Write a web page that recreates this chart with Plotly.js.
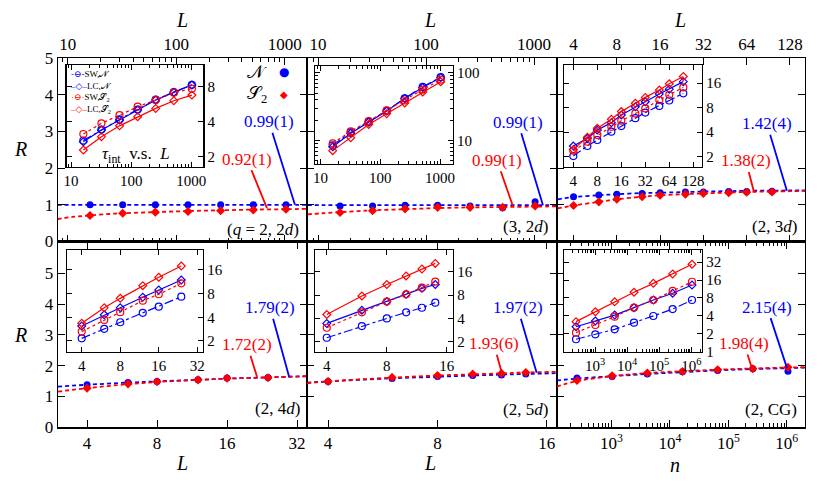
<!DOCTYPE html>
<html>
<head>
<meta charset="utf-8">
<script src="https://cdn.plot.ly/plotly-3.0.1.min.js"></script>
<style>
  body { margin: 0; background: #fff; }
  #graph { width: 830px; height: 486px; }
</style>
</head>
<body>
<div id="graph"></div>
<script>
// sizes used in each panel
const L2d = [16, 32, 64, 128, 256, 512, 1024];
const L3d = [4, 6, 8, 12, 16, 24, 32, 48, 64, 96];
const L4d = [4, 6, 8, 12, 16, 24];
const L5d = [4, 6, 8, 10, 12, 14];
const nCG = [256, 1024, 4096, 16384, 65536, 262144, 1048576];

// R for N (blue) and S2 (red), main panels
const R_N_q2 = [1.00, 1.00, 1.00, 1.00, 1.00, 1.00, 1.00];
const R_S_q2 = [0.71, 0.77, 0.80, 0.82, 0.84, 0.86, 0.88];
const R_N_q3 = [0.97, 0.97, 0.99, 0.99, 0.97, 0.92, 1.08];
const R_S_q3 = [0.79, 0.84, 0.89, 0.93, 0.93, 0.93, 0.97];
const R_N_3d = [1.22, 1.27, 1.29, 1.31, 1.33, 1.35, 1.35, 1.36, 1.36, 1.37];
const R_S_3d = [0.98, 1.08, 1.15, 1.22, 1.26, 1.29, 1.31, 1.33, 1.34, 1.35];
const R_N_4d = [1.38, 1.45, 1.49, 1.54, 1.60, 1.62];
const R_S_4d = [1.27, 1.41, 1.48, 1.54, 1.59, 1.61];
const R_N_5d = [1.49, 1.58, 1.65, 1.68, 1.70, 1.73];
const R_S_5d = [1.49, 1.62, 1.68, 1.73, 1.75, 1.78];
const R_N_CG = [1.60, 1.65, 1.73, 1.80, 1.84, 1.90, 1.82];
const R_S_CG = [1.52, 1.67, 1.76, 1.81, 1.87, 1.90, 1.95];

// fitted curves (dashed)
const fitX_q2 = [8, 11, 16, 24, 32, 64, 128, 256, 512, 1024, 1600];
const fitN_q2 = [1, 1, 1, 1, 1, 1, 1, 1, 1, 1, 1];
const fitS_q2 = [0.61, 0.67, 0.71, 0.75, 0.77, 0.80, 0.83, 0.85, 0.87, 0.88, 0.89];
const fitX_q3 = [8, 11, 16, 24, 32, 64, 128, 256, 512, 1024, 1650];
const fitN_q3 = [0.99, 0.99, 0.99, 0.99, 0.99, 0.99, 0.99, 0.99, 0.99, 0.99, 0.99];
const fitS_q3 = [0.74, 0.77, 0.80, 0.83, 0.85, 0.88, 0.91, 0.93, 0.94, 0.95, 0.96];
const fitX_3d = [3.1, 4, 6, 8, 12, 16, 32, 64, 128, 165];
const fitN_3d = [1.15, 1.21, 1.26, 1.29, 1.32, 1.33, 1.36, 1.38, 1.39, 1.39];
const fitS_3d = [0.90, 0.98, 1.08, 1.15, 1.22, 1.26, 1.31, 1.35, 1.37, 1.38];
const fitX_4d = [3, 4, 6, 8, 12, 16, 24, 36];
const fitN_4d = [1.32, 1.38, 1.45, 1.49, 1.54, 1.58, 1.62, 1.66];
const fitS_4d = [1.16, 1.27, 1.40, 1.47, 1.54, 1.58, 1.62, 1.66];
const fitX_5d = [3.5, 4, 6, 8, 10, 12, 14, 17.5];
const fitN_5d = [1.45, 1.49, 1.59, 1.64, 1.68, 1.71, 1.73, 1.76];
const fitS_5d = [1.43, 1.49, 1.61, 1.68, 1.72, 1.75, 1.78, 1.80];
const fitX_CG = [115, 256, 1024, 4096, 16384, 65536, 262144, 1048576, 2100000];
const fitN_CG = [1.52, 1.58, 1.66, 1.73, 1.79, 1.85, 1.89, 1.92, 1.94];
const fitS_CG = [1.32, 1.50, 1.66, 1.76, 1.82, 1.87, 1.91, 1.94, 1.95];

// tau_int in the insets: SW/LC for N and S2
const tau1_SW_N = [2.75, 3.42, 4.18, 5.08, 6.18, 7.20, 8.30];
const tau1_LC_N = [2.69, 3.39, 4.13, 5.03, 6.14, 7.15, 8.28];
const tau1_SW_S = [3.13, 3.87, 4.55, 5.38, 6.14, 7.10, 7.70];
const tau1_LC_S = [2.28, 2.97, 3.68, 4.41, 5.20, 6.06, 6.77];

const tau2_SW_N = [8.5, 13.2, 19.0, 27.5, 42, 62, 86];
const tau2_LC_N = [8.1, 12.8, 18.7, 27.3, 41.6, 60.6, 85];
const tau2_SW_S = [9.1, 13.7, 19.4, 27.9, 39, 56.6, 79];
const tau2_LC_S = [7.1, 11.0, 17.3, 24.9, 35.8, 52, 73.7];

const tau3_SW_N = [2.04, 2.71, 3.21, 4.06, 4.76, 5.94, 6.96, 8.4, 9.8, 12.0];
const tau3_LC_N = [2.71, 3.36, 4.26, 5.24, 6.5, 8.2, 9.45, 11.8, 13.5, 16.7];
const tau3_SW_S = [2.37, 3.06, 3.7, 4.66, 5.54, 6.8, 7.84, 9.92, 11.5, 14.2];
const tau3_LC_S = [2.46, 3.46, 4.47, 5.77, 7.16, 9.06, 10.7, 13.2, 15.7, 19.3];

const tau4_SW_N = [2.16, 2.85, 3.46, 4.56, 5.46, 7.3];
const tau4_LC_N = [3.1, 4.3, 5.3, 7.2, 8.9, 11.9];
const tau4_SW_S = [2.63, 3.7, 4.64, 6.5, 7.85, 10.8];
const tau4_LC_S = [3.36, 5.3, 6.96, 10.1, 12.9, 17.9];

const tau5_SW_N = [2.25, 3.19, 4.0, 4.8, 5.5, 6.4];
const tau5_LC_N = [3.45, 5.1, 6.6, 8.2, 9.8, 11.0];
const tau5_SW_S = [3.03, 4.8, 6.6, 8.2, 10.0, 12.0];
const tau5_LC_S = [4.5, 7.8, 11.0, 14.2, 17.4, 20.6];

const tau6_SW_N = [1.62, 1.96, 2.38, 3.08, 3.98, 5.2, 7.4];
const tau6_LC_N = [2.63, 3.28, 4.13, 5.5, 7.4, 9.6, 13.2];
const tau6_SW_S = [2.09, 2.81, 3.88, 5.5, 7.4, 10.5, 15.0];
const tau6_LC_S = [3.2, 4.7, 6.9, 10.0, 14.1, 20.3, 29.5];

const BLUE = '#0000ff';
const RED = '#ff0000';
const serif = '"Liberation Serif", "DejaVu Serif", serif';

// pixel -> paper helpers (margins are zero)
const W = 830, H = 486;
const X = px => px / W;
const Y = py => 1 - py / H;

function mainTraces(n, x, rN, rS, fx, fN, fS) {
    const xa = 'x' + (n === 1 ? '' : n), ya = 'y' + (n === 1 ? '' : n);
    return [
        { x: fx, y: fN, xaxis: xa, yaxis: ya, mode: 'lines', line: { color: BLUE, width: 1.8, dash: '4px,3px', shape: 'spline' } },
        { x: fx, y: fS, xaxis: xa, yaxis: ya, mode: 'lines', line: { color: RED, width: 1.8, dash: '4px,3px', shape: 'spline' } },
        { x: x, y: rN, xaxis: xa, yaxis: ya, mode: 'markers', marker: { color: BLUE, size: 7, symbol: 'circle' } },
        { x: x, y: rS, xaxis: xa, yaxis: ya, mode: 'markers', marker: { color: RED, size: 7, symbol: 'diamond' } },
    ];
}

function insetTraces(n, x, swN, lcN, swS, lcS) {
    const xa = 'x' + n, ya = 'y' + n;
    return [
        { x: x, y: swN, xaxis: xa, yaxis: ya, mode: 'lines+markers',
          line: { color: BLUE, width: 1.2, dash: 'dashdot' }, marker: { symbol: 'circle-open', size: 7, color: BLUE, line: { width: 1.2 } } },
        { x: x, y: lcN, xaxis: xa, yaxis: ya, mode: 'lines+markers',
          line: { color: BLUE, width: 1.2 }, marker: { symbol: 'diamond-open', size: 6, color: BLUE, line: { width: 1.2 } } },
        { x: x, y: swS, xaxis: xa, yaxis: ya, mode: 'lines+markers',
          line: { color: RED, width: 1.2, dash: 'dot' }, marker: { symbol: 'circle-open', size: 7, color: RED, line: { width: 1.2 } } },
        { x: x, y: lcS, xaxis: xa, yaxis: ya, mode: 'lines+markers',
          line: { color: RED, width: 1.2 }, marker: { symbol: 'diamond-open', size: 6, color: RED, line: { width: 1.2 } } },
    ];
}

const data = [].concat(
    mainTraces(1, L2d, R_N_q2, R_S_q2, fitX_q2, fitN_q2, fitS_q2),
    mainTraces(2, L2d, R_N_q3, R_S_q3, fitX_q3, fitN_q3, fitS_q3),
    mainTraces(3, L3d, R_N_3d, R_S_3d, fitX_3d, fitN_3d, fitS_3d),
    mainTraces(4, L4d, R_N_4d, R_S_4d, fitX_4d, fitN_4d, fitS_4d),
    mainTraces(5, L5d, R_N_5d, R_S_5d, fitX_5d, fitN_5d, fitS_5d),
    mainTraces(6, nCG, R_N_CG, R_S_CG, fitX_CG, fitN_CG, fitS_CG),
    insetTraces(7, L2d, tau1_SW_N, tau1_LC_N, tau1_SW_S, tau1_LC_S),
    insetTraces(8, L2d, tau2_SW_N, tau2_LC_N, tau2_SW_S, tau2_LC_S),
    insetTraces(9, L3d, tau3_SW_N, tau3_LC_N, tau3_SW_S, tau3_LC_S),
    insetTraces(10, L4d, tau4_SW_N, tau4_LC_N, tau4_SW_S, tau4_LC_S),
    insetTraces(11, L5d, tau5_SW_N, tau5_LC_N, tau5_SW_S, tau5_LC_S),
    insetTraces(12, nCG, tau6_SW_N, tau6_LC_N, tau6_SW_S, tau6_LC_S)
);

// minor tick positions 2..9 per decade
function decadeMinors(e0, e1) {
    const v = [];
    for (let e = e0; e <= e1; e++) for (let m = 2; m <= 9; m++) v.push(m * Math.pow(10, e));
    return v;
}

const axBase = {
    ticks: 'inside', mirror: 'allticks', showline: true, linecolor: '#000', linewidth: 1.3,
    tickcolor: '#000', ticklen: 7, tickwidth: 1, showgrid: false, zeroline: false,
    tickfont: { family: serif, size: 17, color: '#000' }, fixedrange: true,
};
const inBase = Object.assign({}, axBase, { ticklen: 5, tickfont: { family: serif, size: 15, color: '#000' } });
const minorMain = e => ({ tickvals: decadeMinors(e[0], e[1]), ticks: 'inside', ticklen: 4, tickcolor: '#000', showgrid: false });
const minorIn = e => ({ tickvals: decadeMinors(e[0], e[1]), ticks: 'inside', ticklen: 3, tickcolor: '#000', showgrid: false });
const pow10 = ['10<sup>3</sup>', '10<sup>4</sup>', '10<sup>5</sup>', '10<sup>6</sup>'];

const topY = [Y(241.5), Y(58)];
const botY = [Y(427.3), Y(241.5)];

const layout = {
    width: W, height: H,
    margin: { l: 0, r: 0, t: 0, b: 0 },
    paper_bgcolor: '#fff', plot_bgcolor: 'rgba(0,0,0,0)',
    font: { family: serif, color: '#000' },
    showlegend: false,

    // main panels
    xaxis: Object.assign({}, axBase, { type: 'log', domain: [X(58), X(307)], range: [0.909, 3.204], side: 'top', anchor: 'y',
        tickvals: [10, 100, 1000], minor: minorMain([0, 3]) }),
    yaxis: Object.assign({}, axBase, { domain: topY, range: [0, 5], tickvals: [0, 1, 2, 3, 4, 5], anchor: 'x' }),
    xaxis2: Object.assign({}, axBase, { type: 'log', domain: [X(307), X(557)], range: [0.898, 3.213], side: 'top', anchor: 'y2',
        tickvals: [10, 100, 1000], minor: minorMain([0, 3]) }),
    yaxis2: Object.assign({}, axBase, { domain: topY, range: [0, 5], tickvals: [0, 1, 2, 3, 4, 5], anchor: 'x2', showticklabels: false }),
    xaxis3: Object.assign({}, axBase, { type: 'log', domain: [X(557), X(805)], range: [0.487, 2.212], side: 'top', anchor: 'y3',
        tickvals: [4, 8, 16, 32, 64, 128] }),
    yaxis3: Object.assign({}, axBase, { domain: topY, range: [0, 5], tickvals: [0, 1, 2, 3, 4, 5], anchor: 'x3', showticklabels: false }),
    xaxis4: Object.assign({}, axBase, { type: 'log', domain: [X(58), X(307)], range: [0.477, 1.548], anchor: 'y4',
        tickvals: [4, 8, 16, 32] }),
    yaxis4: Object.assign({}, axBase, { domain: botY, range: [0, 6.03], tickvals: [0, 1, 2, 3, 4, 5], anchor: 'x4' }),
    xaxis5: Object.assign({}, axBase, { type: 'log', domain: [X(307), X(557)], range: [0.544, 1.232], anchor: 'y5',
        tickvals: [4, 8, 16] }),
    yaxis5: Object.assign({}, axBase, { domain: botY, range: [0, 6.03], tickvals: [0, 1, 2, 3, 4, 5], anchor: 'x5', showticklabels: false }),
    xaxis6: Object.assign({}, axBase, { type: 'log', domain: [X(557), X(805)], range: [2.066, 6.312], anchor: 'y6',
        tickvals: [1e3, 1e4, 1e5, 1e6], ticktext: pow10, minor: minorMain([2, 6]) }),
    yaxis6: Object.assign({}, axBase, { domain: botY, range: [0, 6.03], tickvals: [0, 1, 2, 3, 4, 5], anchor: 'x6', showticklabels: false }),

    // insets
    xaxis7: Object.assign({}, inBase, { type: 'log', domain: [X(66.7), X(203.3)], range: [0.927, 3.2], anchor: 'y7',
        tickvals: [10, 100, 1000], minor: minorIn([0, 3]) }),
    yaxis7: Object.assign({}, inBase, { type: 'log', domain: [Y(166.7), Y(65)], range: [0.214, 1.090], side: 'right', anchor: 'x7',
        tickvals: [2, 4, 8] }),
    xaxis8: Object.assign({}, inBase, { type: 'log', domain: [X(315), X(452.7)], range: [0.908, 3.211], anchor: 'y8',
        tickvals: [10, 100, 1000], minor: minorIn([0, 3]) }),
    yaxis8: Object.assign({}, inBase, { type: 'log', domain: [Y(164), Y(66)], range: [0.654, 2.10], side: 'right', anchor: 'x8',
        tickvals: [10, 100], minor: minorIn([0, 2]) }),
    xaxis9: Object.assign({}, inBase, { type: 'log', domain: [X(564), X(702)], range: [0.485, 2.217], anchor: 'y9',
        tickvals: [4, 8, 16, 32, 64, 128] }),
    yaxis9: Object.assign({}, inBase, { type: 'log', domain: [Y(167), Y(65)], range: [0.175, 1.427], side: 'right', anchor: 'x9',
        tickvals: [2, 4, 8, 16] }),
    xaxis10: Object.assign({}, inBase, { type: 'log', domain: [X(67), X(203)], range: [0.487, 1.550], anchor: 'y10',
        tickvals: [4, 8, 16, 32] }),
    yaxis10: Object.assign({}, inBase, { type: 'log', domain: [Y(352), Y(250)], range: [0.161, 1.457], side: 'right', anchor: 'x10',
        tickvals: [2, 4, 8, 16] }),
    xaxis11: Object.assign({}, inBase, { type: 'log', domain: [X(315), X(453)], range: [0.543, 1.235], anchor: 'y11',
        tickvals: [4, 8, 16] }),
    yaxis11: Object.assign({}, inBase, { type: 'log', domain: [Y(352), Y(250)], range: [0.168, 1.487], side: 'right', anchor: 'x11',
        tickvals: [2, 4, 8, 16] }),
    xaxis12: Object.assign({}, inBase, { type: 'log', domain: [X(564), X(702)], range: [2.034, 6.333], anchor: 'y12',
        tickvals: [1e3, 1e4, 1e5, 1e6], ticktext: pow10, minor: minorIn([2, 6]) }),
    yaxis12: Object.assign({}, inBase, { type: 'log', domain: [Y(352), Y(250)], range: [-0.005, 1.710], side: 'right', anchor: 'x12',
        tickvals: [1, 2, 4, 8, 16, 32] }),
};

// axis titles and panel labels
function txt(px, py, text, size, extra) {
    return Object.assign({ xref: 'paper', yref: 'paper', x: X(px), y: Y(py), text: text, showarrow: false,
        font: { family: serif, size: size, color: '#000' }, xanchor: 'center', yanchor: 'middle' }, extra || {});
}
// fitted exponent labels pointing at the curves (x in log10 units)
function expo(n, x, y, ax, ay, text, color) {
    const s = n === 1 ? '' : n;
    return { xref: 'x' + s, yref: 'y' + s, x: x, y: y, ax: ax, ay: ay, text: text, showarrow: true,
        arrowhead: 0, arrowwidth: 1.8, arrowcolor: color, standoff: 0,
        font: { family: serif, size: 17, color: color } };
}
const swatch = (sample, color) => '<span style="color:' + color + '">' + sample + '</span>';

layout.annotations = [
    txt(182, 20, '<i>L</i>', 20), txt(430, 20, '<i>L</i>', 20), txt(680, 20, '<i>L</i>', 20),
    txt(182, 463, '<i>L</i>', 20), txt(430, 463, '<i>L</i>', 20), txt(675, 465, '<i>n</i>', 20),
    txt(20, 149, '<i>R</i>', 20), txt(20, 335, '<i>R</i>', 20),
    txt(263, 230, '(<i>q</i> = 2, 2<i>d</i>)', 17), txt(525, 227, '(3, 2<i>d</i>)', 17),
    txt(774, 226, '(2, 3<i>d</i>)', 17), txt(277, 408, '(2, 4<i>d</i>)', 17),
    txt(525, 409, '(2, 5<i>d</i>)', 17), txt(771, 409, '(2, CG)', 17),
    txt(136, 155, '<i>τ</i><sub>int</sub>  v.s.  <i>L</i>', 17),
    txt(257, 72, '𝒩', 18), txt(257, 94, '𝒮<sub>2</sub>', 18),
    txt(284, 72, '●', 12, { font: { family: 'DejaVu Sans', size: 12, color: BLUE } }),
    txt(284, 94, '◆', 10, { font: { family: 'DejaVu Sans', size: 10, color: RED } }),
    // inset key, one line per series
    txt(68, 67, swatch('-⊖-', BLUE) + 'SW,𝒩<br>' + swatch('–◇–', BLUE) + 'LC,𝒩<br>' +
        swatch('·⊖·', RED) + 'SW,𝒮<sub>2</sub><br>' + swatch('–◇–', RED) + 'LC,𝒮<sub>2</sub>', 9,
        { xanchor: 'left', yanchor: 'top', align: 'left' }),

    expo(1, 3.093, 1.00, -26, -83, '0.99(1)', BLUE),
    expo(1, 2.835, 0.91, -20, -49, '0.92(1)', RED),
    expo(2, 3.083, 0.99, -25, -83, '0.99(1)', BLUE),
    expo(2, 2.805, 0.96, -16, -46, '0.99(1)', RED),
    expo(3, 2.086, 1.38, -20, -67, '1.42(4)', BLUE),
    expo(3, 1.857, 1.35, -8, -31, '1.38(2)', RED),
    expo(4, 1.471, 1.64, -19, -69, '1.79(2)', BLUE),
    expo(4, 1.333, 1.64, -10, -32, '1.72(2)', RED),
    expo(5, 1.176, 1.77, -19, -65, '1.97(2)', BLUE),
    expo(5, 1.080, 1.77, -8, -29, '1.93(6)', RED),
    expo(6, 6.004, 1.92, -20, -61, '2.15(4)', BLUE),
    expo(6, 5.405, 1.91, -8, -25, '1.98(4)', RED),
];

Plotly.newPlot('graph', data, layout, { staticPlot: true, displayModeBar: false });
</script>
</body>
</html>
